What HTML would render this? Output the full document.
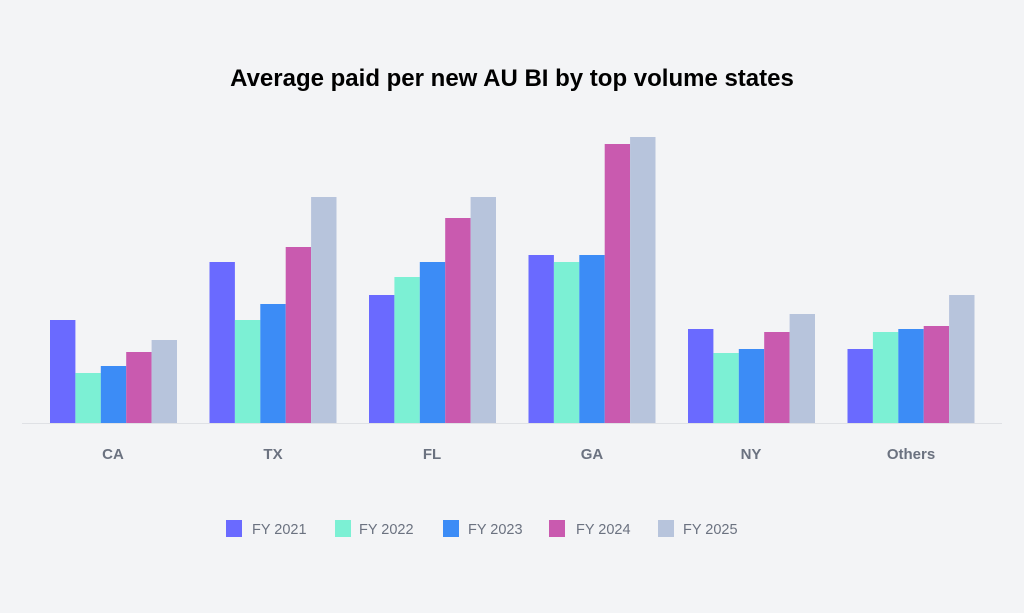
<!DOCTYPE html>
<html><head><style>
body{margin:0;background:#f3f4f6;font-family:"Liberation Sans",Arial,sans-serif}
</style></head><body>
<svg width="1024" height="608" xmlns="http://www.w3.org/2000/svg">
<rect width="1024" height="608" fill="#f3f4f6"/>
<text x="512" y="86" text-anchor="middle" font-size="24" font-weight="bold" fill="#000">Average paid per new AU BI by top volume states</text>
<line x1="22" y1="423.5" x2="1002" y2="423.5" stroke="#dfe1e5" stroke-width="1"/>
<g transform="translate(50,0)">
<rect x="0" y="320" width="25.4" height="103" fill="#6a6aff"/>
<rect x="25.4" y="373" width="25.4" height="50" fill="#7cf0d4"/>
<rect x="50.8" y="366" width="25.4" height="57" fill="#3c8cf6"/>
<rect x="76.2" y="352" width="25.4" height="71" fill="#c95aaf"/>
<rect x="101.6" y="340" width="25.4" height="83" fill="#b7c4dc"/>
</g>
<g transform="translate(209.5,0)">
<rect x="0" y="262" width="25.4" height="161" fill="#6a6aff"/>
<rect x="25.4" y="320" width="25.4" height="103" fill="#7cf0d4"/>
<rect x="50.8" y="304" width="25.4" height="119" fill="#3c8cf6"/>
<rect x="76.2" y="247" width="25.4" height="176" fill="#c95aaf"/>
<rect x="101.6" y="197" width="25.4" height="226" fill="#b7c4dc"/>
</g>
<g transform="translate(369,0)">
<rect x="0" y="295" width="25.4" height="128" fill="#6a6aff"/>
<rect x="25.4" y="277" width="25.4" height="146" fill="#7cf0d4"/>
<rect x="50.8" y="262" width="25.4" height="161" fill="#3c8cf6"/>
<rect x="76.2" y="218" width="25.4" height="205" fill="#c95aaf"/>
<rect x="101.6" y="197" width="25.4" height="226" fill="#b7c4dc"/>
</g>
<g transform="translate(528.5,0)">
<rect x="0" y="255" width="25.4" height="168" fill="#6a6aff"/>
<rect x="25.4" y="262" width="25.4" height="161" fill="#7cf0d4"/>
<rect x="50.8" y="255" width="25.4" height="168" fill="#3c8cf6"/>
<rect x="76.2" y="144" width="25.4" height="279" fill="#c95aaf"/>
<rect x="101.6" y="137" width="25.4" height="286" fill="#b7c4dc"/>
</g>
<g transform="translate(688,0)">
<rect x="0" y="329" width="25.4" height="94" fill="#6a6aff"/>
<rect x="25.4" y="353" width="25.4" height="70" fill="#7cf0d4"/>
<rect x="50.8" y="349" width="25.4" height="74" fill="#3c8cf6"/>
<rect x="76.2" y="332" width="25.4" height="91" fill="#c95aaf"/>
<rect x="101.6" y="314" width="25.4" height="109" fill="#b7c4dc"/>
</g>
<g transform="translate(847.5,0)">
<rect x="0" y="349" width="25.4" height="74" fill="#6a6aff"/>
<rect x="25.4" y="332" width="25.4" height="91" fill="#7cf0d4"/>
<rect x="50.8" y="329" width="25.4" height="94" fill="#3c8cf6"/>
<rect x="76.2" y="326" width="25.4" height="97" fill="#c95aaf"/>
<rect x="101.6" y="295" width="25.4" height="128" fill="#b7c4dc"/>
</g>
<g font-size="15" font-weight="bold" fill="#6b7280" text-anchor="middle">
<text x="113" y="459">CA</text><text x="273" y="459">TX</text><text x="432" y="459">FL</text><text x="592" y="459">GA</text><text x="751" y="459">NY</text><text x="911" y="459">Others</text>
</g>
<g font-size="14.5" fill="#6b7280">
<rect x="226" y="520" width="16" height="17" fill="#6a6aff"/><text x="252" y="534">FY 2021</text>
<rect x="335" y="520" width="16" height="17" fill="#7cf0d4"/><text x="359" y="534">FY 2022</text>
<rect x="443" y="520" width="16" height="17" fill="#3c8cf6"/><text x="468" y="534">FY 2023</text>
<rect x="549" y="520" width="16" height="17" fill="#c95aaf"/><text x="576" y="534">FY 2024</text>
<rect x="658" y="520" width="16" height="17" fill="#b7c4dc"/><text x="683" y="534">FY 2025</text>
</g>
</svg>
</body></html>
